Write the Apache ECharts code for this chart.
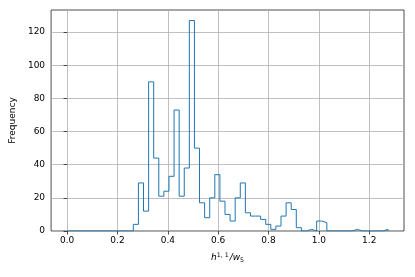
<!DOCTYPE html>
<html>
<head>
<meta charset="utf-8">
<script src="https://cdn.jsdelivr.net/npm/echarts@6/dist/echarts.min.js"></script>
<style>
  html, body { margin: 0; padding: 0; background: #fff; }
  #chart { width: 415px; height: 277px; }
</style>
</head>
<body>
<div id="chart"></div>
<script>
// histogram bins: start + width, one count per bin
const binStart = 0.0
const binWidth = 0.02023
const counts = [
  0, 0, 0, 0, 0, 0, 0, 0, 0, 0, 0, 0, 0,
  4, 29, 12, 90, 44, 21, 24, 33, 73, 21, 38,
  127, 50, 17, 8, 20, 34, 18, 10, 6, 20, 29,
  11, 9, 9, 7, 4, 1, 3, 9, 17, 13, 2,
  0, 1, 0, 6, 5, 0, 0, 0, 0, 0, 1,
  0, 0, 0, 0, 0, 1
]
const xTicks = [0.0, 0.2, 0.4, 0.6, 0.8, 1.0, 1.2]
const yTicks = [0, 20, 40, 60, 80, 100, 120]

// outline of a step histogram (matplotlib histtype='step')
const outline = [[binStart, 0]]
counts.forEach((c, i) => {
  const x0 = binStart + i * binWidth
  outline.push([x0, c])
  outline.push([x0 + binWidth, c])
})
outline.push([binStart + counts.length * binWidth, 0])

const dataMax = binStart + counts.length * binWidth
const pad = (dataMax - binStart) * 0.05
const yMax = Math.max(...counts) * 1.05

const font = 'DejaVu Sans'
const fs = 9
const option = {
  animation: false,
  grid: {
    left: 48, right: 11, top: 10, bottom: 46,
    show: true, borderColor: '#222', borderWidth: 0.8
  },
  xAxis: {
    type: 'value',
    min: binStart - pad,
    max: dataMax + pad,
    axisLine: { show: false },
    axisTick: { show: true, customValues: xTicks, length: 3.5, lineStyle: { color: '#222', width: 0.8 } },
    axisLabel: {
      customValues: xTicks, margin: 5.5, color: '#000', fontFamily: font, fontSize: fs,
      formatter: v => v.toFixed(1)
    },
    splitLine: { show: true, lineStyle: { color: '#b0b0b0', width: 0.8 } },
    name: '{i|h}{sup|1, 1}{i|/w}{sub|5}',
    nameLocation: 'middle',
    nameGap: 21,
    nameTextStyle: {
      color: '#000', fontFamily: font, fontSize: fs,
      rich: {
        i: { fontStyle: 'italic', fontFamily: font, fontSize: fs, color: '#000' },
        sup: { fontFamily: font, fontSize: 6.3, color: '#000', verticalAlign: 'top', padding: [0, 1, 5, 0] },
        sub: { fontFamily: font, fontSize: 6.3, color: '#000', verticalAlign: 'bottom', padding: [3, 0, 0, 0] }
      }
    }
  },
  yAxis: {
    type: 'value',
    min: 0,
    max: yMax,
    axisLine: { show: false },
    axisTick: { show: true, customValues: yTicks, length: 3.5, lineStyle: { color: '#222', width: 0.8 } },
    axisLabel: { customValues: yTicks, margin: 6, color: '#000', fontFamily: font, fontSize: fs },
    splitLine: { show: true, lineStyle: { color: '#b0b0b0', width: 0.8 } },
    name: 'Frequency',
    nameLocation: 'middle',
    nameGap: 29,
    nameTextStyle: { color: '#000', fontFamily: font, fontSize: fs }
  },
  series: [{
    type: 'line',
    data: outline,
    showSymbol: false,
    symbol: 'none',
    lineStyle: { color: '#1f77b4', width: 1 },
    silent: true
  }]
}

const E = echarts.init(document.getElementById('chart'), null, { renderer: 'canvas' })
E.setOption(option)
</script>
</body>
</html>
